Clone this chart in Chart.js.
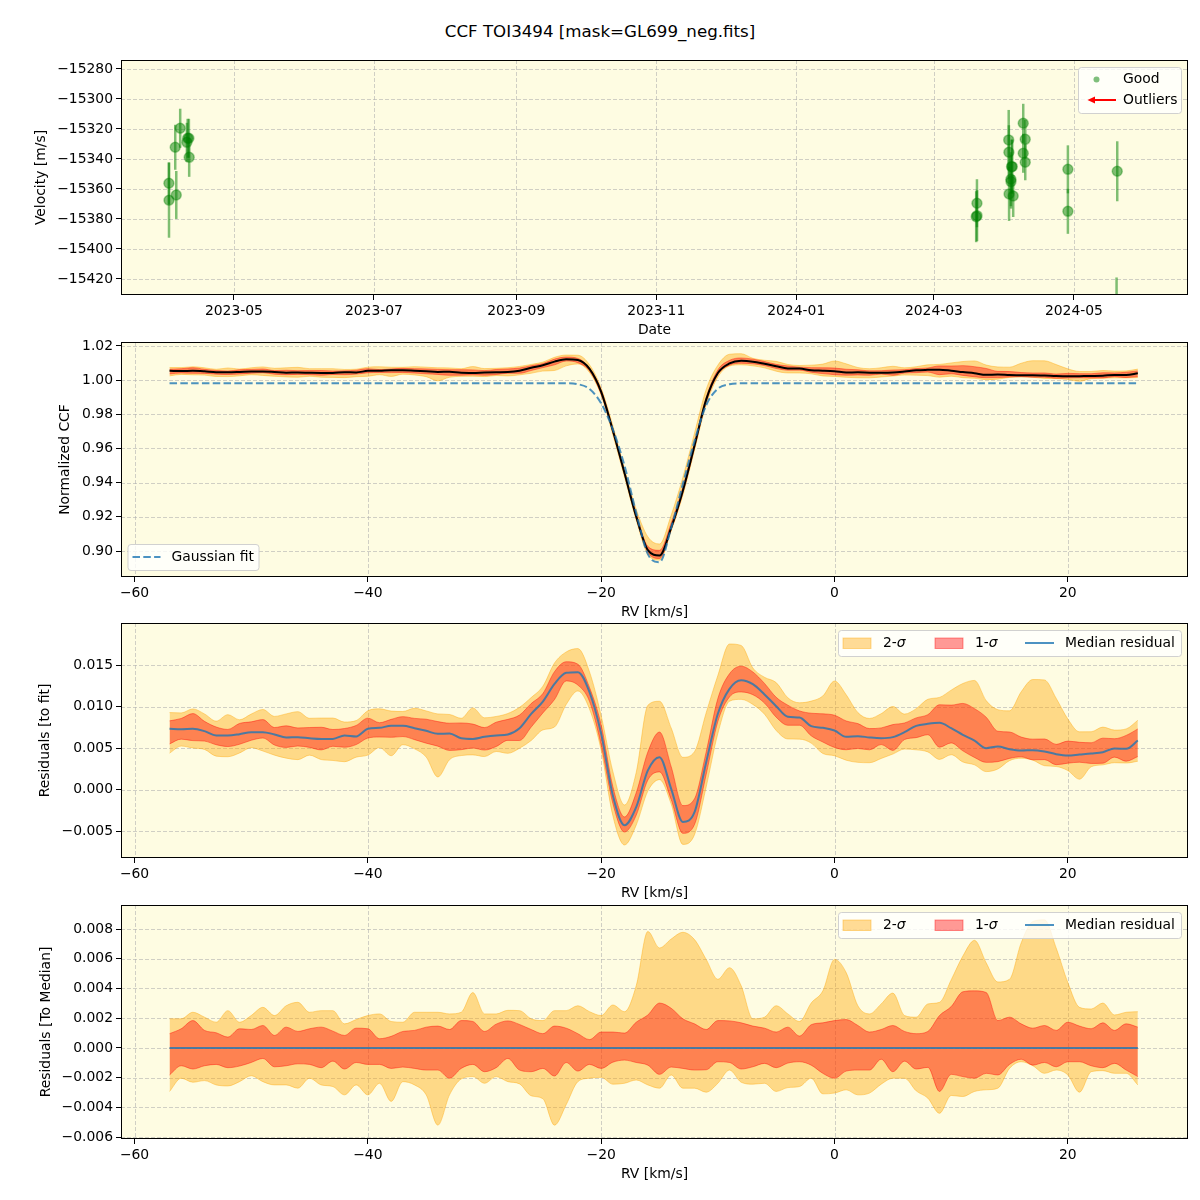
<!DOCTYPE html>
<html>
<head>
<meta charset="utf-8">
<script src="https://cdn.jsdelivr.net/npm/chart.js@4.4.0/dist/chart.umd.min.js"></script>
<style>
  body { margin: 0; background: #fff; }
  #wrap { position: relative; width: 1200px; height: 1200px; font-family: "DejaVu Sans", sans-serif; }
  #title { position: absolute; top: 22px; left: 0; width: 1200px; text-align: center; font-size: 16.67px; line-height: 20px; color: #000; }
  canvas { position: absolute; left: 0; }
</style>
</head>
<body>
<div id="wrap">
  <div id="title">CCF TOI3494 [mask=GL699_neg.fits]</div>
  <canvas id="c1" width="1200" height="296" style="top:44px"></canvas>
  <canvas id="c2" width="1200" height="296" style="top:326px"></canvas>
  <canvas id="c3" width="1200" height="296" style="top:607px"></canvas>
  <canvas id="c4" width="1200" height="295" style="top:889px"></canvas>
</div>
<script>
// ---- velocity time series (panel 1) ----
const obsDate = ['2023-04-02T16:00Z','2023-04-02T17:00Z','2023-04-05T10:00Z','2023-04-05T21:00Z','2023-04-07T14:00Z',
  '2023-04-10T12:00Z','2023-04-10T20:00Z','2023-04-11T09:00Z','2023-04-11T12:00Z',
  '2024-03-19T10:00Z','2024-03-19T18:00Z','2024-03-19T19:00Z','2024-04-02T14:00Z','2024-04-02T16:00Z','2024-04-02T18:00Z',
  '2024-04-03T13:00Z','2024-04-03T14:00Z','2024-04-03T20:00Z','2024-04-04T03:00Z','2024-04-04T13:00Z',
  '2024-04-08T22:00Z','2024-04-08T22:00Z','2024-04-09T19:00Z','2024-04-09T19:00Z',
  '2024-04-28T09:00Z','2024-04-28T09:00Z','2024-05-19T21:00Z','2024-05-19T14:00Z'];
const obsVel = [-15356.2,-15367.5,-15332.2,-15364.0,-15319.5,-15328.9,-15326.2,-15326.2,-15338.9,
  -15378.5,-15369.5,-15377.8,-15327.3,-15335.5,-15363.3,-15353.5,-15355.1,-15345.1,-15345.1,-15364.7,
  -15316.2,-15336.2,-15326.9,-15342.2,-15346.9,-15374.9,-15348.2,-15446.0];
const obsErr = [14,25,15,16,13,13,13,13,13, 17,16,17,20,18,18,18,18,18,18,14, 13,13,13,12, 16,15,20,27];
const dateTicks = ['2023-05-01','2023-07-01','2023-09-01','2023-11-01','2024-01-01','2024-03-01','2024-05-01'];
const velTicks = [-15420,-15400,-15380,-15360,-15340,-15320,-15300,-15280];

// ---- CCF profile (panels 2-4) ----
const rv = [-57,-56,-55,-54,-53,-52,-51,-50,-49,-48,-47,-46,-45,-44,-43,-42,-41,-40,-39,-38,-37,-36,-35,-34,-33,-32,-31,-30,
  -29,-28,-27,-26,-25,-24,-23,-22,-21,-20,-19,-18,-17,-16,-15,-14,-13,-12,-11,-10,-9,-8,-7,-6,-5,-4,-3,-2,
  -1,0,1,2,3,4,5,6,7,8,9,10,11,12,13,14,15,16,17,18,19,20,21,22,23,24,25,26];
const gaussFit = [0.9981,0.9981,0.9981,0.9981,0.9981,0.9981,0.9981,0.9981,0.9981,0.9981,0.9981,0.9981,0.9981,0.9981,0.9981,0.9981,0.9981,
  0.9981,0.9981,0.9981,0.9981,0.9981,0.9981,0.9981,0.9981,0.9981,0.9981,0.9981,0.9981,0.9981,0.9981,0.9981,0.9981,0.9981,
  0.9981,0.9976,0.9948,0.9864,0.9712,0.9499,0.9224,0.8982,0.8935,0.9136,0.9392,0.9644,0.9853,0.9950,0.9976,
  0.9981,0.9981,0.9981,0.9981,0.9981,0.9981,0.9981,0.9981,0.9981,0.9981,0.9981,0.9981,0.9981,0.9981,0.9981,0.9981,0.9981,0.9981,
  0.9981,0.9981,0.9981,0.9981,0.9981,0.9981,0.9981,0.9981,0.9981,0.9981,0.9981,0.9981,0.9981,0.9981,0.9981,0.9981,0.9981];
// median residual to the fit, in units of 1e-3
const medResid = [7.31,7.27,7.31,7.03,6.51,6.51,6.67,6.91,6.91,6.63,6.27,6.31,6.18,6.10,6.10,6.51,6.39,7.31,7.43,7.67,7.67,7.39,7.07,6.71,6.75,6.18,6.10,6.35,
  6.51,6.63,7.39,9.12,10.60,12.73,14.06,14.14,11.73,6.71,-0.72,-4.30,-2.13,2.30,
  3.90,0.08,-3.90,-2.73,3.29,9.12,12.13,13.17,12.69,11.45,10.04,8.76,8.67,7.63,7.43,7.11,6.35,6.43,6.27,6.18,6.31,6.91,7.67,7.91,8.03,
  7.39,6.59,5.90,4.98,5.18,4.86,4.70,4.74,4.58,4.26,4.10,4.22,4.34,4.50,4.94,4.90,5.90];
// band edges relative to the median, in units of 1e-3
const up2 = [1.96,1.96,2.40,2.07,1.73,2.51,1.73,2.18,2.73,2.18,2.84,3.07,2.40,2.51,2.51,1.62,1.91,2.18,2.29,1.78,1.73,2.40,2.40,2.40,2.29,2.40,3.73,2.29,
  2.29,2.53,2.51,1.96,1.84,2.51,2.51,2.84,2.44,2.18,2.89,2.44,4.18,7.84,6.73,7.33,7.78,7.29,5.96,4.62,5.40,4.18,1.96,2.07,2.84,2.29,1.78,3.02,
  3.84,5.96,5.07,2.84,2.29,2.96,3.69,2.18,2.07,2.96,3.07,4.58,6.18,7.24,5.73,4.44,4.62,7.07,8.51,8.62,6.73,4.40,2.73,2.62,3.02,2.22,2.40,2.44];
const up1 = [0.96,1.29,1.84,1.18,1.02,0.73,1.29,1.24,1.51,0.84,1.40,1.11,1.29,1.40,1.13,0.84,1.33,1.29,0.62,0.78,1.11,1.18,1.40,1.47,1.24,1.84,1.78,1.11,
  1.60,1.82,1.58,1.24,0.96,1.47,1.33,0.96,0.56,1.07,1.07,1.00,1.73,2.22,3.02,2.67,1.96,1.62,1.24,1.84,1.82,1.69,1.47,1.33,1.07,1.40,0.80,1.56,
  1.69,1.84,1.91,1.51,1.07,1.24,1.51,1.11,0.96,1.11,2.18,2.78,3.78,3.84,3.73,1.84,2.07,1.62,1.33,1.51,1.18,1.73,1.47,1.29,1.69,1.18,1.62,1.40];
const lo1 = [-1.82,-1.20,-1.42,-1.20,-1.11,-1.33,-1.22,-0.98,-0.71,-1.27,-1.20,-1.07,-1.11,-1.33,-0.89,-1.42,-0.98,-1.11,-1.11,-1.38,-1.29,-1.38,-1.49,-1.49,-2.04,-1.38,-1.11,-1.60,
  -1.33,-0.71,-1.49,-1.60,-1.38,-1.89,-0.98,-1.56,-1.11,-1.38,-0.96,-0.82,-0.98,-1.16,-1.78,-1.29,-1.38,-1.49,-1.47,-0.93,-0.98,-1.42,-1.27,-1.04,-1.33,-1.02,-0.93,-1.16,
  -1.71,-2.04,-1.56,-1.49,-1.49,-0.76,-1.60,-0.89,-1.42,-1.31,-2.93,-1.78,-1.93,-2.04,-1.71,-1.82,-1.11,-0.76,-1.16,-0.98,-1.27,-0.93,-0.93,-1.20,-1.33,-1.04,-1.49,-1.93];
const lo2 = [-2.93,-2.04,-2.31,-2.20,-2.49,-2.56,-2.27,-1.87,-2.27,-2.49,-2.49,-2.71,-2.04,-2.49,-2.60,-3.16,-2.49,-3.16,-2.38,-3.60,-2.27,-2.49,-3.16,-5.20,-3.16,-2.09,-1.93,-2.38,
  -1.93,-2.27,-2.42,-3.22,-3.42,-5.20,-3.82,-2.27,-2.04,-1.98,-2.44,-2.38,-2.16,-2.49,-2.71,-1.82,-2.71,-2.71,-2.98,-2.38,-1.49,-2.31,-2.44,-2.38,-2.93,-2.67,-2.60,-2.04,
  -3.09,-3.04,-2.82,-3.16,-3.04,-2.44,-2.04,-2.04,-2.89,-3.38,-4.40,-3.20,-3.27,-2.93,-2.82,-2.71,-1.38,-0.93,-1.20,-1.71,-1.49,-1.82,-2.98,-1.60,-1.53,-1.71,-1.71,-2.49];
const rvTicks = [-60,-40,-20,0,20];
const ccfTicks = [0.90,0.92,0.94,0.96,0.98,1.00,1.02];
const resTicks = [-0.005,0,0.005,0.010,0.015];
const medTicks = [-0.006,-0.004,-0.002,0,0.002,0.004,0.006,0.008];

// ---- styles ----
const BG = 'rgb(254,252,226)';
const GRID = 'rgba(176,176,176,0.6)';
const FAM = '"DejaVu Sans", sans-serif';
const FS = 13.9;
const C2 = 'rgba(255,165,0,0.4)';
const C1 = 'rgba(255,0,0,0.4)';
const BLUE = 'rgba(31,119,180,0.8)';
const GREEN = 'rgba(0,128,0,0.5)';

const minus = s => s.replace('-', '\u2212');
const pts = ys => ys.map((y, i) => ({x: rv[i], y: y}));
const shift = (base, o) => base.map((b, i) => b + o[i] / 1000);

const resid = medResid.map(v => v / 1000);
const ccf = gaussFit.map((g, i) => g + resid[i]);
const zero = rv.map(() => 0);

function legendBox(ctx, x, y, w, h) {
  ctx.save();
  ctx.beginPath();
  ctx.roundRect(x + 0.5, y + 0.5, w, h, 3);
  ctx.fillStyle = 'rgba(255,255,255,0.8)';
  ctx.fill();
  ctx.strokeStyle = 'rgba(204,204,204,0.9)';
  ctx.lineWidth = 1;
  ctx.stroke();
  ctx.restore();
}
function legendText(ctx, txt, x, y) {
  ctx.font = FS + 'px ' + FAM;
  ctx.fillStyle = '#000';
  ctx.textBaseline = 'middle';
  ctx.textAlign = 'left';
  ctx.fillText(txt, x, y);
}
function sigmaText(ctx, n, x, y) {
  legendText(ctx, n + '-', x, y);
  const w = ctx.measureText(n + '-').width;
  ctx.font = 'italic ' + FS + 'px ' + FAM;
  ctx.fillText('\u03c3', x + w, y);
}
function patch(ctx, x, y, color) {
  ctx.fillStyle = color;
  ctx.fillRect(x, y - 5, 28, 10.5);
  ctx.strokeStyle = color;
  ctx.lineWidth = 1;
  ctx.strokeRect(x, y - 5, 28, 10.5);
}

function bandLegend(ctx, a) {
  const x0 = a.right - 350, y0 = a.top + 7;
  legendBox(ctx, x0, y0, 343, 26);
  const y = y0 + 13;
  patch(ctx, x0 + 5, y, C2);
  sigmaText(ctx, '2', x0 + 45, y);
  patch(ctx, x0 + 97, y, C1);
  sigmaText(ctx, '1', x0 + 137, y);
  ctx.strokeStyle = BLUE; ctx.lineWidth = 2;
  ctx.beginPath(); ctx.moveTo(x0 + 187, y); ctx.lineTo(x0 + 216, y); ctx.stroke();
  legendText(ctx, 'Median residual', x0 + 227, y);
}

function panelPlugin(extra) {
  return {
    id: 'panel',
    beforeDraw(chart) {
      const a = chart.chartArea, ctx = chart.ctx;
      ctx.save();
      ctx.fillStyle = BG;
      ctx.fillRect(a.left, a.top, a.right - a.left, a.bottom - a.top);
      ctx.restore();
    },
    beforeDatasetsDraw(chart) {
      const a = chart.chartArea, ctx = chart.ctx;
      const sx = chart.scales.x, sy = chart.scales.y;
      ctx.save();
      ctx.beginPath();
      ctx.rect(a.left, a.top, a.right - a.left, a.bottom - a.top);
      ctx.clip();
      ctx.strokeStyle = GRID;
      ctx.lineWidth = 1;
      ctx.setLineDash([4, 2]);
      sx.ticks.forEach(t => {
        const px = Math.round(sx.getPixelForValue(t.value)) + 0.5;
        ctx.beginPath(); ctx.moveTo(px, a.top); ctx.lineTo(px, a.bottom); ctx.stroke();
      });
      sy.ticks.forEach(t => {
        const py = Math.round(sy.getPixelForValue(t.value)) + 0.5;
        ctx.beginPath(); ctx.moveTo(a.left, py); ctx.lineTo(a.right, py); ctx.stroke();
      });
      ctx.setLineDash([]);
      if (extra.errors) {
        ctx.strokeStyle = GREEN;
        ctx.lineWidth = 2.5;
        extra.errors.forEach(e => {
          const px = sx.getPixelForValue(e.x);
          ctx.beginPath();
          ctx.moveTo(px, sy.getPixelForValue(e.y - e.err));
          ctx.lineTo(px, sy.getPixelForValue(e.y + e.err));
          ctx.stroke();
        });
      }
      ctx.restore();
    },
    afterDraw(chart) {
      const a = chart.chartArea, ctx = chart.ctx;
      ctx.save();
      ctx.strokeStyle = '#000';
      ctx.lineWidth = 1;
      ctx.strokeRect(a.left + 0.5, a.top + 0.5, a.right - a.left - 1, a.bottom - a.top - 1);
      if (extra.legend) extra.legend(ctx, a);
      ctx.restore();
    }
  };
}

function axis(isX, o) {
  return {
    type: 'linear',
    position: isX ? 'bottom' : 'left',
    min: o.min, max: o.max,
    afterBuildTicks: s => { s.ticks = o.ticks.map(v => ({value: v})); },
    afterFit: s => { if (isX) s.height = 45; else s.width = 121; },
    grid: {display: true, drawOnChartArea: false, drawTicks: true, tickLength: 5, tickWidth: 1, tickColor: '#000', color: '#000'},
    border: {display: false},
    ticks: {color: '#000', font: {family: FAM, size: FS}, padding: 3, autoSkip: false, maxRotation: 0, minRotation: 0, callback: o.label},
    title: {display: true, text: o.title, color: '#000', font: {family: FAM, size: FS},
      padding: isX ? {top: 0, bottom: 1.7} : {top: o.tpad, bottom: 0}}
  };
}

function makeChart(id, type, datasets, xo, yo, extra) {
  return new Chart(document.getElementById(id), {
    type: type,
    data: {datasets: datasets},
    options: {
      responsive: false,
      animation: false,
      events: [],
      layout: {padding: {top: 16, right: 12, left: 0, bottom: 0}},
      plugins: {legend: {display: false}, tooltip: {enabled: false}},
      scales: {x: axis(true, xo), y: axis(false, yo)}
    },
    plugins: [panelPlugin(extra)]
  });
}

function line(data, color, width, order, extra) {
  return Object.assign({data: pts(data), borderColor: color, backgroundColor: color, borderWidth: width,
    pointRadius: 0, cubicInterpolationMode: 'monotone', fill: false, order: order}, extra || {});
}
function bands(base) {
  return [
    line(shift(base, up1), C1, 1, 2, {fill: '+1'}),
    line(shift(base, lo1), C1, 1, 2),
    line(shift(base, up2), C2, 1, 3, {fill: '+1'}),
    line(shift(base, lo2), C2, 1, 3)
  ];
}

const rvAxis = {min: -61.16, max: 30.3, ticks: rvTicks, label: v => minus(String(v)), title: 'RV [km/s]'};

// ---- panel 1 ----
const obs = obsDate.map((d, i) => ({x: Date.parse(d), y: obsVel[i], err: obsErr[i]}));
makeChart('c1', 'scatter', [{
  data: obs.map(o => ({x: o.x, y: o.y})),
  pointRadius: 5, backgroundColor: GREEN, borderColor: 'rgba(0,128,0,0.35)', borderWidth: 1.5
}], {
  min: Date.UTC(2023, 2, 12, 19), max: Date.UTC(2024, 5, 19, 17),
  ticks: dateTicks.map(d => Date.parse(d + 'T00:00Z')),
  label: v => { const d = new Date(v); return d.getUTCFullYear() + '-' + String(d.getUTCMonth() + 1).padStart(2, '0'); },
  title: 'Date'
}, {
  min: -15430.7, max: -15274, ticks: velTicks, label: v => minus(v.toFixed(0)), title: 'Velocity [m/s]', tpad: 32.7
}, {
  errors: obs,
  legend: (ctx, a) => {
    const x0 = a.right - 110, y0 = a.top + 7;
    legendBox(ctx, x0, y0, 103, 46);
    ctx.fillStyle = GREEN;
    ctx.beginPath(); ctx.arc(x0 + 18.5, y0 + 12.5, 3, 0, Math.PI * 2); ctx.fill();
    legendText(ctx, 'Good', x0 + 45, y0 + 12.5);
    const ya = y0 + 33;
    ctx.strokeStyle = 'red'; ctx.lineWidth = 2;
    ctx.beginPath(); ctx.moveTo(x0 + 38, ya); ctx.lineTo(x0 + 15, ya); ctx.stroke();
    ctx.fillStyle = 'red';
    ctx.beginPath(); ctx.moveTo(x0 + 9.5, ya); ctx.lineTo(x0 + 17, ya - 3.5); ctx.lineTo(x0 + 17, ya + 3.5); ctx.closePath(); ctx.fill();
    legendText(ctx, 'Outliers', x0 + 45, ya);
  }
});

// ---- panel 2 ----
makeChart('c2', 'line', [
  line(gaussFit, BLUE, 2, 0, {borderDash: [7.5, 3.3]}),
  line(ccf, '#000', 2, 1)
].concat(bands(ccf)), rvAxis, {
  min: 0.8848, max: 1.0223, ticks: ccfTicks, label: v => v.toFixed(2), title: 'Normalized CCF', tpad: 57.4
}, {
  legend: (ctx, a) => {
    const x0 = a.left + 6.5, y0 = a.bottom - 33;
    legendBox(ctx, x0, y0, 131, 26);
    const y = y0 + 13;
    ctx.strokeStyle = BLUE; ctx.lineWidth = 2; ctx.setLineDash([7.5, 3.3]);
    ctx.beginPath(); ctx.moveTo(x0 + 5, y); ctx.lineTo(x0 + 33, y); ctx.stroke();
    ctx.setLineDash([]);
    legendText(ctx, 'Gaussian fit', x0 + 44, y);
  }
});

// ---- panel 3 ----
makeChart('c3', 'line', [line(resid, BLUE, 2, 0)].concat(bands(resid)), rvAxis, {
  min: -0.00825, max: 0.02006, ticks: resTicks, label: v => minus(v.toFixed(3)), title: 'Residuals [to fit]', tpad: 37
}, {legend: bandLegend});

// ---- panel 4 ----
makeChart('c4', 'line', [line(zero, BLUE, 2, 0)].concat(bands(zero)), rvAxis, {
  min: -0.00613, max: 0.00962, ticks: medTicks, label: v => minus(v.toFixed(3)), title: 'Residuals [To Median]', tpad: 37.7
}, {legend: bandLegend});
</script>
</body>
</html>
